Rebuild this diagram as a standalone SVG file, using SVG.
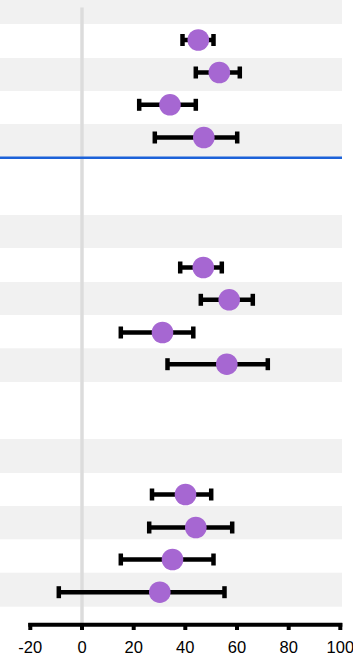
<svg xmlns="http://www.w3.org/2000/svg" width="353" height="656" viewBox="0 0 353 656">
<style>
.band{fill:#f1f1f1}
.bar{stroke:#000;stroke-width:4.5;fill:none}
.cap{stroke:#000;stroke-width:4.5;fill:none}
.pt{fill:#a667d2}
.zero{stroke:#dcdcdc;stroke-width:3.5}
.sep{stroke:#1c62d9;stroke-width:2.4}
.axis{stroke:#000;stroke-width:4}
.tick{stroke:#000;stroke-width:4}
.lbl{font-family:"Liberation Sans",Arial,sans-serif;font-size:16.5px;fill:#000;text-anchor:middle}
</style>
<rect width="353" height="656" fill="#fff"/>
<g id="bands">
<rect class="band" x="0" y="0" width="342" height="24"/>
<rect class="band" x="0" y="58" width="342" height="33"/>
<rect class="band" x="0" y="124" width="342" height="33"/>
<rect class="band" x="0" y="215" width="342" height="33"/>
<rect class="band" x="0" y="282" width="342" height="33"/>
<rect class="band" x="0" y="348.3" width="342" height="33.7"/>
<rect class="band" x="0" y="439" width="342" height="34"/>
<rect class="band" x="0" y="506" width="342" height="33.3"/>
<rect class="band" x="0" y="572.7" width="342" height="34"/>
</g>
<g id="zero-line"><line class="zero" x1="82" y1="7.5" x2="82" y2="624"/></g>
<g id="separator"><line class="sep" x1="0" y1="157.8" x2="342" y2="157.8"/></g>
<g id="connectors">
<g id="g1r1"><line class="bar" x1="182.5" y1="40" x2="213.5" y2="40"/><line class="cap" x1="182.5" y1="34" x2="182.5" y2="46"/><line class="cap" x1="213.5" y1="34" x2="213.5" y2="46"/></g>
<g id="g1r2"><line class="bar" x1="195.8" y1="72.5" x2="239.8" y2="72.5"/><line class="cap" x1="195.8" y1="66.5" x2="195.8" y2="78.5"/><line class="cap" x1="239.8" y1="66.5" x2="239.8" y2="78.5"/></g>
<g id="g1r3"><line class="bar" x1="139.2" y1="104.8" x2="195.8" y2="104.8"/><line class="cap" x1="139.2" y1="98.8" x2="139.2" y2="110.8"/><line class="cap" x1="195.8" y1="98.8" x2="195.8" y2="110.8"/></g>
<g id="g1r4"><line class="bar" x1="154.8" y1="137.5" x2="237.2" y2="137.5"/><line class="cap" x1="154.8" y1="131.5" x2="154.8" y2="143.5"/><line class="cap" x1="237.2" y1="131.5" x2="237.2" y2="143.5"/></g>
<g id="g2r1"><line class="bar" x1="180.2" y1="267.5" x2="221.8" y2="267.5"/><line class="cap" x1="180.2" y1="261.5" x2="180.2" y2="273.5"/><line class="cap" x1="221.8" y1="261.5" x2="221.8" y2="273.5"/></g>
<g id="g2r2"><line class="bar" x1="200.8" y1="299.8" x2="252.8" y2="299.8"/><line class="cap" x1="200.8" y1="293.8" x2="200.8" y2="305.8"/><line class="cap" x1="252.8" y1="293.8" x2="252.8" y2="305.8"/></g>
<g id="g2r3"><line class="bar" x1="120.8" y1="332.5" x2="193.3" y2="332.5"/><line class="cap" x1="120.8" y1="326.5" x2="120.8" y2="338.5"/><line class="cap" x1="193.3" y1="326.5" x2="193.3" y2="338.5"/></g>
<g id="g2r4"><line class="bar" x1="167.5" y1="364.2" x2="267.8" y2="364.2"/><line class="cap" x1="167.5" y1="358.2" x2="167.5" y2="370.2"/><line class="cap" x1="267.8" y1="358.2" x2="267.8" y2="370.2"/></g>
<g id="g3r1"><line class="bar" x1="152" y1="494.5" x2="211.2" y2="494.5"/><line class="cap" x1="152" y1="488.5" x2="152" y2="500.5"/><line class="cap" x1="211.2" y1="488.5" x2="211.2" y2="500.5"/></g>
<g id="g3r2"><line class="bar" x1="149.2" y1="527.5" x2="232.2" y2="527.5"/><line class="cap" x1="149.2" y1="521.5" x2="149.2" y2="533.5"/><line class="cap" x1="232.2" y1="521.5" x2="232.2" y2="533.5"/></g>
<g id="g3r3"><line class="bar" x1="120.8" y1="559.5" x2="213.5" y2="559.5"/><line class="cap" x1="120.8" y1="553.5" x2="120.8" y2="565.5"/><line class="cap" x1="213.5" y1="553.5" x2="213.5" y2="565.5"/></g>
<g id="g3r4"><line class="bar" x1="58.8" y1="592.2" x2="224.5" y2="592.2"/><line class="cap" x1="58.8" y1="586.2" x2="58.8" y2="598.2"/><line class="cap" x1="224.5" y1="586.2" x2="224.5" y2="598.2"/></g>
</g>
<g id="points">
<g id="p-g1r1"><circle class="pt" cx="198.3" cy="40" r="10.8"/></g>
<g id="p-g1r2"><circle class="pt" cx="219.3" cy="72.5" r="10.8"/></g>
<g id="p-g1r3"><circle class="pt" cx="170" cy="104.8" r="10.8"/></g>
<g id="p-g1r4"><circle class="pt" cx="203.8" cy="137.5" r="10.8"/></g>
<g id="p-g2r1"><circle class="pt" cx="203.3" cy="267.5" r="10.8"/></g>
<g id="p-g2r2"><circle class="pt" cx="229.2" cy="299.8" r="10.8"/></g>
<g id="p-g2r3"><circle class="pt" cx="162.5" cy="332.5" r="10.8"/></g>
<g id="p-g2r4"><circle class="pt" cx="226.8" cy="364.2" r="10.8"/></g>
<g id="p-g3r1"><circle class="pt" cx="185.5" cy="494.5" r="10.8"/></g>
<g id="p-g3r2"><circle class="pt" cx="195.8" cy="527.5" r="10.8"/></g>
<g id="p-g3r3"><circle class="pt" cx="172.5" cy="559.5" r="10.8"/></g>
<g id="p-g3r4"><circle class="pt" cx="159.8" cy="592.2" r="10.8"/></g>
</g>
<g id="x-axis">
<line class="axis" x1="28.3" y1="624.7" x2="342.3" y2="624.7"/>
<line class="tick" x1="30.3" y1="623" x2="30.3" y2="630"/>
<line class="tick" x1="82" y1="623" x2="82" y2="630"/>
<line class="tick" x1="133.7" y1="623" x2="133.7" y2="630"/>
<line class="tick" x1="185.3" y1="623" x2="185.3" y2="630"/>
<line class="tick" x1="237" y1="623" x2="237" y2="630"/>
<line class="tick" x1="288.7" y1="623" x2="288.7" y2="630"/>
<line class="tick" x1="340.3" y1="623" x2="340.3" y2="630"/>
<text class="lbl" x="30.3" y="652.5">-20</text>
<text class="lbl" x="82" y="652.5">0</text>
<text class="lbl" x="133.7" y="652.5">20</text>
<text class="lbl" x="185.3" y="652.5">40</text>
<text class="lbl" x="237" y="652.5">60</text>
<text class="lbl" x="288.7" y="652.5">80</text>
<text class="lbl" x="340.3" y="652.5">100</text>
</g>
</svg>
